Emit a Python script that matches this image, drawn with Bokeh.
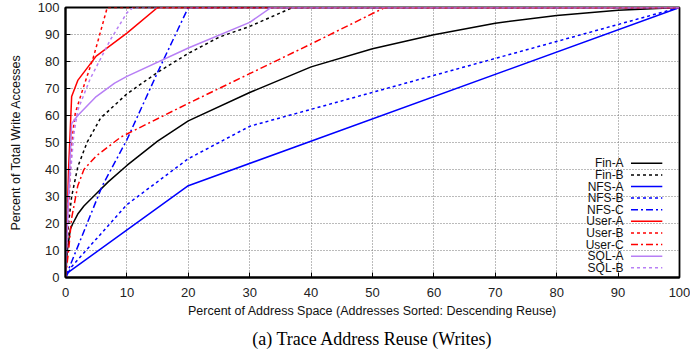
from bokeh.plotting import figure
from bokeh.models import Range1d, FixedTicker, Title
from bokeh.embed import file_html
from bokeh.resources import INLINE
from bokeh.core.properties import value

# ---- data ----
series_names = ["Fin-A", "Fin-B", "NFS-A", "NFS-B", "NFS-C",
                "User-A", "User-B", "User-C", "SQL-A", "SQL-B"]

fin_a_x = [0, 0.3, 0.8, 1.2, 2, 3, 5, 7, 10, 15, 20, 30, 40, 50, 60, 70, 80, 90, 100]
fin_a_y = [0, 10, 18, 20, 23.5, 26.5, 31, 35.5, 41.5, 50.5, 58, 68.5, 78, 84.7, 89.9, 94.2, 97, 99, 100]

fin_b_x = [0, 0.5, 1, 2, 3.5, 5.7, 10, 15, 20, 25, 30, 37, 100]
fin_b_y = [0, 20, 30, 41, 50, 59, 68, 76, 83, 89, 93, 100, 100]

nfs_a_x = [0, 0.5, 20, 100]
nfs_a_y = [0, 2, 34, 100]

nfs_b_x = [0, 1, 10, 20, 30, 100]
nfs_b_y = [0, 4, 27, 44, 56, 100]

nfs_c_x = [0, 0.5, 6, 10, 15, 20, 100]
nfs_c_y = [0, 3, 34, 51, 76, 100, 100]

user_a_x = [0, 0.5, 1, 2, 5, 10, 15, 100]
user_a_y = [0, 40, 67, 73, 82, 90.5, 100, 100]

user_b_x = [0, 0.5, 1, 1.6, 3, 4.6, 6.8, 100]
user_b_y = [0, 25, 50, 61, 71, 82, 100, 100]

user_c_x = [0, 0.5, 1, 2, 3, 5, 9, 20, 30, 40, 52, 100]
user_c_y = [0, 10, 22, 34, 40, 45, 52, 64.5, 75.5, 86.5, 100, 100]

sql_a_x = [0, 0.5, 1, 2, 5, 8, 10, 20, 30, 33.5, 100]
sql_a_y = [0, 30, 57, 60, 67, 72, 74.5, 85, 94.5, 100, 100]

sql_b_x = [0, 0.5, 1.35, 2, 4, 7.3, 10, 11, 100]
sql_b_y = [0, 30, 53, 62, 73.5, 88, 98, 100, 100]

x_ticks = [0, 10, 20, 30, 40, 50, 60, 70, 80, 90, 100]
y_ticks = [0, 10, 20, 30, 40, 50, 60, 70, 80, 90, 100]

# ---- styles ----
BLACK, BLUE, RED, PURPLE = "#000000", "#0000ff", "#ff0000", "#b77ff5"
SOLID, DOT, DASHDOT = "solid", "3 3", "7 3 2 3"
styles = [
    (BLACK, SOLID), (BLACK, DOT),
    (BLUE, SOLID), (BLUE, DOT), (BLUE, DASHDOT),
    (RED, SOLID), (RED, DOT), (RED, DASHDOT),
    (PURPLE, SOLID), (PURPLE, DOT),
]
series = [(fin_a_x, fin_a_y), (fin_b_x, fin_b_y), (nfs_a_x, nfs_a_y),
          (nfs_b_x, nfs_b_y), (nfs_c_x, nfs_c_y), (user_a_x, user_a_y),
          (user_b_x, user_b_y), (user_c_x, user_c_y), (sql_a_x, sql_a_y),
          (sql_b_x, sql_b_y)]

FONT = "Liberation Sans"

p = figure(width=690, height=356, output_backend="svg", toolbar_location=None,
           x_range=Range1d(0, 100), y_range=Range1d(0, 100),
           min_border_left=65, min_border_right=11, min_border_top=7,
           min_border_bottom=79)
p.background_fill_color = "white"
p.border_fill_color = "white"
p.outline_line_color = "black"
p.outline_line_width = 1.8

for ax in (p.xaxis[0], p.yaxis[0]):
    ax.major_tick_in = 5
    ax.major_tick_out = 0
    ax.minor_tick_in = 0
    ax.minor_tick_out = 0
    ax.axis_line_color = "black"
    ax.axis_line_width = 2
    ax.major_label_text_font = FONT
    ax.major_label_text_font_size = "13px"
    ax.major_label_text_color = "#222222"
    ax.axis_label_text_font = FONT
    ax.axis_label_text_font_size = "12.5px"
    ax.axis_label_text_font_style = "normal"
    ax.axis_label_text_color = "#111111"

p.xaxis.ticker = FixedTicker(ticks=x_ticks)
p.yaxis.ticker = FixedTicker(ticks=y_ticks)
p.xaxis.axis_label = "Percent of Address Space (Addresses Sorted: Descending Reuse)"
p.yaxis.axis_label = "Percent of Total Write Accesses"
p.xaxis.major_label_standoff = 10
p.xaxis.axis_label_standoff = 4
p.yaxis.major_label_standoff = 6
p.yaxis.axis_label_standoff = 12

for g in (p.xgrid[0], p.ygrid[0]):
    g.grid_line_color = "#777777"
    g.grid_line_dash = "1 2"
    g.grid_line_width = 1

for (xs, ys), (col, dash) in zip(series, styles):
    p.line(xs, ys, line_color=col, line_dash=dash, line_width=1.5)

# ---- legend (glyph to the right of right-aligned label) ----
leg_text_x = 90.9
leg_x0, leg_x1 = 92.1, 97.2
leg_top, leg_step = 42.3, 4.3
leg_ys = [leg_top - i * leg_step for i in range(len(series_names))]
for yy, (col, dash) in zip(leg_ys, styles):
    p.segment(x0=[leg_x0], y0=[yy], x1=[leg_x1], y1=[yy],
              line_color=col, line_dash=dash, line_width=1.5)
p.text(x=[leg_text_x] * len(series_names), y=leg_ys, text=series_names,
       text_align="right", text_baseline="middle",
       text_font=value(FONT), text_font_size="12px", text_color="#111111")

caption = Title(text="(a) Trace Address Reuse (Writes)", align="center",
                text_font="Liberation Serif", text_font_size="18px",
                text_font_style="normal", text_color="black", standoff=13)
p.add_layout(caption, "below")

open("out.html", "w").write(file_html(p, INLINE))
